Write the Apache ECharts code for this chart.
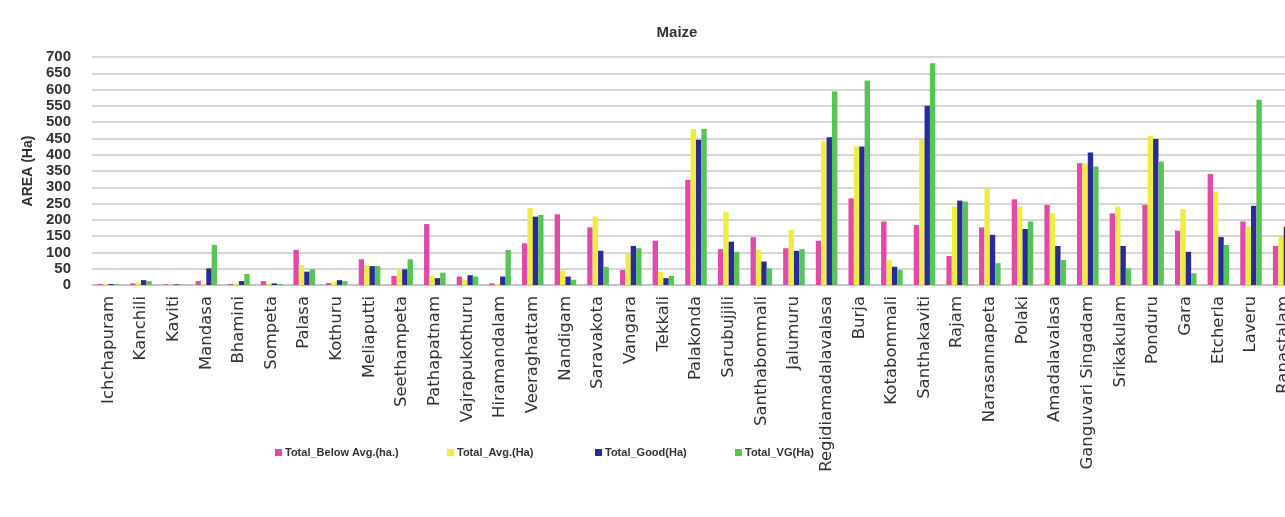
<!DOCTYPE html>
<html>
<head>
<meta charset="utf-8">
<title>Maize</title>
<script src="https://cdn.jsdelivr.net/npm/echarts@6/dist/echarts.min.js"></script>
<style>
  html, body { margin: 0; padding: 0; background: #ffffff; }
  #chart { width: 1285px; height: 517px; }
</style>
</head>
<body>
<div id="chart"></div>
<script>
// Mandals (categories along the x axis)
const mandals = ['Ichchapuram', 'Kanchili', 'Kaviti', 'Mandasa', 'Bhamini', 'Sompeta', 'Palasa', 'Kothuru',
  'Meliaputti', 'Seethampeta', 'Pathapatnam', 'Vajrapukothuru', 'Hiramandalam', 'Veeraghattam', 'Nandigam',
  'Saravakota', 'Vangara', 'Tekkali', 'Palakonda', 'Sarubujjili', 'Santhabommali', 'Jalumuru',
  'Regidiamadalavalasa', 'Burja', 'Kotabommali', 'Santhakaviti', 'Rajam', 'Narasannapeta', 'Polaki',
  'Amadalavalasa', 'Ganguvari Singadam', 'Srikakulam', 'Ponduru', 'Gara', 'Etcherla', 'Laveru', 'Ranastalam'];

// Maize area (ha) by crop condition class
const belowAvg = [3, 5, 2, 12, 3, 12, 108, 6, 79, 28, 187, 26, 5, 128, 217, 177, 46, 136, 323, 110, 147, 113,
  136, 266, 195, 184, 89, 177, 263, 246, 374, 220, 246, 167, 341, 195, 120];
const avg = [2, 8, 1, 5, 3, 5, 61, 10, 62, 46, 28, 15, 3, 236, 45, 210, 98, 41, 479, 225, 108, 169,
  441, 425, 77, 446, 241, 297, 241, 220, 374, 241, 458, 233, 287, 179, 149];
const good = [3, 15, 2, 51, 12, 5, 41, 15, 58, 48, 21, 30, 26, 210, 26, 105, 120, 21, 446, 133, 72, 105,
  454, 425, 56, 550, 259, 154, 172, 120, 407, 120, 448, 102, 147, 243, 179];
const veryGood = [2, 12, 1, 123, 34, 3, 48, 12, 58, 79, 38, 26, 108, 215, 16, 56, 113, 28, 479, 102, 51, 110,
  594, 628, 46, 681, 256, 67, 195, 77, 364, 51, 379, 36, 123, 569, 190];

const seriesNames = ['Total_Below Avg.(ha.)', 'Total_Avg.(Ha)', 'Total_Good(Ha)', 'Total_VG(Ha)'];
const seriesColors = ['#e04aa8', '#eded45', '#2b2b98', '#56c456'];
const seriesData = [belowAvg, avg, good, veryGood];

// One legend block per series so each entry sits in its own column
const legendLefts = [270, 442, 590, 730];

const chart = echarts.init(document.getElementById('chart'), null, { renderer: 'canvas' });

chart.setOption({
  backgroundColor: '#ffffff',
  animation: false,
  title: {
    text: 'Maize',
    left: 672,
    textAlign: 'center',
    top: 20,
    textStyle: { fontFamily: 'Liberation Sans', fontSize: 15, fontWeight: 'bold', color: '#333333' }
  },
  legend: seriesNames.map((name, i) => ({
    bottom: 54,
    left: legendLefts[i],
    itemWidth: 7,
    itemHeight: 7,
    icon: 'rect',
    textStyle: { fontFamily: 'Liberation Sans', fontSize: 11, fontWeight: 'bold', color: '#333333', padding: [0, 0, 0, -2] },
    data: [name]
  })),
  // The plot runs slightly past the right edge of the canvas
  grid: { left: 92, width: 1208, top: 57, bottom: 232, containLabel: false, outerBoundsMode: 'none' },
  xAxis: {
    type: 'category',
    data: mandals,
    axisTick: { show: false },
    axisLine: { lineStyle: { color: '#bfbfbf', width: 1.5 } },
    axisLabel: {
      rotate: 90,
      interval: 0,
      margin: 11,
      fontFamily: 'DejaVu Sans',
      fontSize: 16.5,
      color: '#333333'
    }
  },
  yAxis: {
    type: 'value',
    min: 0,
    max: 700,
    interval: 50,
    name: 'AREA (Ha)',
    nameLocation: 'middle',
    nameGap: 57,
    nameTextStyle: { fontFamily: 'Liberation Sans', fontSize: 14, fontWeight: 'bold', color: '#333333' },
    axisLine: { show: false },
    axisTick: { show: false },
    axisLabel: {
      margin: 21,
      fontFamily: 'Liberation Sans Narrow, Liberation Sans',
      fontSize: 15,
      fontWeight: 'bold',
      color: '#333333'
    },
    splitLine: { lineStyle: { color: '#c9c9c9', width: 1.5 } }
  },
  series: seriesNames.map((name, i) => ({
    name: name,
    type: 'bar',
    data: seriesData[i],
    itemStyle: { color: seriesColors[i] },
    barGap: '0%',
    barCategoryGap: '34%'
  }))
});
</script>
</body>
</html>
